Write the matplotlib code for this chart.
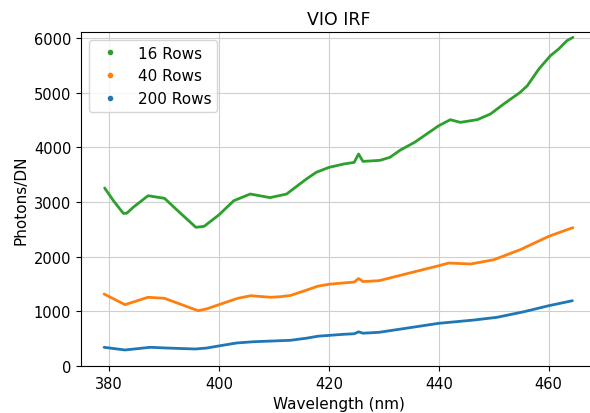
import matplotlib
matplotlib.use("Agg")
import matplotlib.pyplot as plt
from matplotlib.lines import Line2D

# 16 rows
wl_16 = [379.2, 380.8, 382.6, 383.2, 384.4, 387.1, 390.1, 392.5, 395.8, 397.3,
         400.0, 402.7, 405.7, 409.3, 412.3, 415.9, 417.7, 420.0, 422.7, 424.6,
         425.4, 426.2, 429.3, 431.1, 433.0, 435.6, 440.0, 442.1, 443.9, 447.0,
         449.4, 451.8, 454.8, 456.1, 458.2, 460.3, 461.8, 463.3, 464.4]
val_16 = [3256, 3024, 2793, 2793, 2903, 3115, 3067, 2841, 2537, 2555,
          2765, 3024, 3146, 3080, 3146, 3420, 3543, 3633, 3695, 3725,
          3878, 3743, 3762, 3817, 3950, 4092, 4396, 4506, 4457, 4506,
          4610, 4792, 5006, 5127, 5432, 5676, 5798, 5950, 6012]

# 40 rows
wl_40 = [379.1, 382.9, 387.1, 390.1, 392.9, 396.2, 397.7, 400.0, 403.4, 405.8,
         409.4, 411.2, 413.0, 416.0, 418.0, 420.0, 422.7, 424.6, 425.4, 426.2,
         429.1, 435.2, 440.0, 441.8, 445.8, 450.0, 454.8, 460.0, 463.7, 464.4]
val_40 = [1317, 1122, 1257, 1238, 1134, 1012, 1043, 1122, 1238, 1286,
          1257, 1268, 1290, 1390, 1460, 1495, 1520, 1535, 1600, 1545,
          1560, 1714, 1835, 1884, 1866, 1944, 2127, 2372, 2506, 2530]

# 200 rows
wl_200 = [379.1, 382.9, 387.5, 390.5, 395.7, 397.8, 400.2, 403.2, 406.3, 411.2,
          413.0, 416.0, 418.0, 420.0, 422.7, 424.6, 425.4, 426.2, 429.1, 435.2,
          440.0, 446.4, 450.6, 455.5, 460.0, 464.3]
val_200 = [342, 293, 342, 329, 311, 329, 371, 421, 444, 463,
           470, 510, 545, 560, 580, 590, 625, 600, 616, 708,
           781, 841, 891, 993, 1103, 1194]

series = [("200 Rows", wl_200, val_200, "tab:blue"),
          ("40 Rows", wl_40, val_40, "tab:orange"),
          ("16 Rows", wl_16, val_16, "tab:green")]

fig = plt.figure(figsize=(5.9, 4.14), dpi=100)
ax = fig.add_axes([81 / 590, 47 / 414, 515 / 590, 334 / 414])

for label, x, y, c in series:
    ax.plot(x, y, color=c, lw=2.0, solid_capstyle="round")

ax.set_xlim(374.9, 468.6)
ax.set_ylim(0, 6110)
ax.set_xticks([380, 400, 420, 440, 460])
ax.set_yticks([0, 1000, 2000, 3000, 4000, 5000, 6000])
ax.tick_params(labelsize=10.5)
ax.grid(True, color="#cfcfcf", lw=0.8)
ax.set_axisbelow(True)

ax.set_title("VIO IRF", fontsize=12.5)
ax.set_xlabel("Wavelength (nm)", fontsize=11)
ax.set_ylabel("Photons/DN", fontsize=11)

handles = [Line2D([], [], ls="", marker=".", color=c, label=label)
           for label, x, y, c in series[::-1]]
ax.legend(handles=handles, loc="upper left", fontsize=11)

fig.savefig("out.png", dpi=100)
